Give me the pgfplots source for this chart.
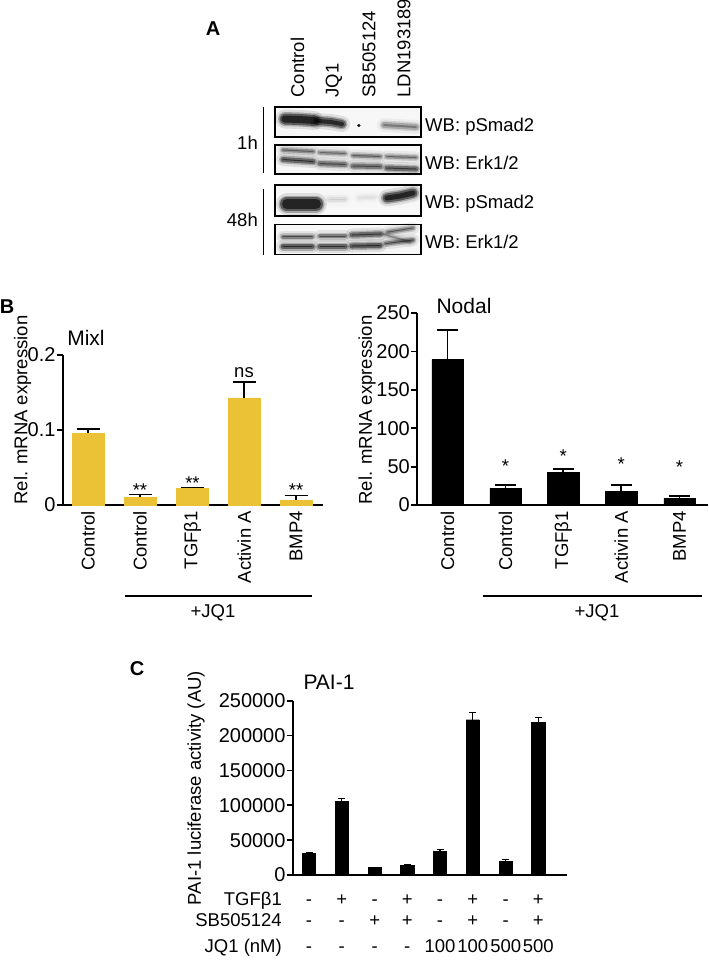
\documentclass[border=0pt]{standalone}
\usepackage{pgfplots}
\pgfplotsset{compat=1.18}
\usepackage{fontspec}
\setmainfont{Liberation Sans}
\definecolor{mixlyellow}{RGB}{235,193,54}

\pgfplotsset{
  panel/.style={
    scale only axis, anchor=south west, clip=false,
    axis lines=left, axis line style={-, line width=1.8pt},
    ybar, ymin=0, enlargelimits=false,
    ytick pos=left, tick align=outside, major tick length=6pt,
    ytick style={line width=1.8pt, black},
    xtick style={draw=none},
    yticklabel style={font=\fontsize{20}{24}\selectfont, inner sep=1pt},
    xticklabel style={rotate=90, anchor=east, font=\fontsize{18.5}{22}\selectfont, inner sep=0pt},
    /pgf/number format/assume math mode=true,
    /pgf/number format/fixed,
    /pgf/number format/1000 sep={},
    scaled y ticks=false,
  },
  blot/.style={no marks, black, line cap=round, line width=#1, forget plot},
}

% one blot band: core width (px), darkness (0-1), coordinates
\newcommand{\band}[3]{%
  \pgfmathsetmacro\bwA{#1+8}\pgfmathsetmacro\bwB{#1+3}%
  \pgfmathsetmacro\bwC{#1}\pgfmathsetmacro\bwD{max(#1-4,1)}%
  \pgfmathsetmacro\boA{0.10*#2}\pgfmathsetmacro\boB{0.25*#2}%
  \pgfmathsetmacro\boC{0.45*#2}\pgfmathsetmacro\boD{0.6*#2}%
  \edef\tmp{%
    \noexpand\addplot[blot=\bwA pt, opacity=\boA] coordinates {#3};
    \noexpand\addplot[blot=\bwB pt, opacity=\boB] coordinates {#3};
    \noexpand\addplot[blot=\bwC pt, opacity=\boC] coordinates {#3};
    \noexpand\addplot[blot=\bwD pt, opacity=\boD] coordinates {#3};}\tmp}

\begin{document}
\begin{tikzpicture}
\path[use as bounding box] (0pt,0pt) rectangle (709pt,-964pt);

% overlay in pixel coordinates: blot and text
\begin{axis}[at={(0pt,0pt)}, anchor=north west, scale only axis,
  width=709pt, height=964pt, hide axis, clip=false,
  xmin=0, xmax=709, ymin=0, ymax=964, y dir=reverse]
  \foreach \ya/\yb in {107/137, 145/174, 185/216, 224.5/254.5}{
    \edef\tmp{\noexpand\fill[gray!6] (axis cs:275,\ya) rectangle (axis cs:421,\yb);}\tmp
  }
  % pSmad2 1h
  \band{11}{1}{(285,119) (300,119.5) (314,120.5)}
  \band{8}{0.95}{(318,121) (331,122) (342,124)}
  \addplot[blot=3pt, opacity=0.9] coordinates {(358.5,125.7) (359.2,125.7)};
  \band{6}{0.45}{(384,125) (400,126) (416,127)}
  % Erk 1h
  \band{4}{0.6}{(283,150) (313,151.5)}
  \band{4}{0.55}{(320,152.5) (345,153.5)}
  \band{4}{0.6}{(353,155.5) (380,156.5)}
  \band{4}{0.55}{(387,156.5) (416,157.5)}
  \band{5}{0.9}{(283,159.5) (313,161.5)}
  \band{5}{0.75}{(320,163.5) (345,164.5)}
  \band{5}{0.75}{(353,166) (380,166.5)}
  \band{5}{0.85}{(387,168) (416,169)}
  % pSmad2 48h
  \band{14}{1}{(287,204) (302,204) (316,204)}
  \band{5}{0.12}{(329,199) (345,199)}
  \band{5}{0.08}{(359,198) (375,197)}
  \band{9}{1}{(387,198) (400,196) (413,193)}
  % Erk 48h
  \band{4}{0.7}{(283,236.5) (312,236.5)}
  \band{4}{0.7}{(320,236) (345,236)}
  \band{5}{0.85}{(352,235) (380,234)}
  \band{4}{0.6}{(388,232) (413,228)}
  \band{3}{0.35}{(383,234) (410,242)}
  \band{5}{0.95}{(283,246.5) (312,246.5)}
  \band{5}{0.9}{(320,246.5) (345,246.5)}
  \band{5}{0.95}{(352,246) (380,245.5)}
  \band{4}{0.7}{(386,243.5) (413,240)}
  \foreach \ya/\yb in {107/137, 145/174, 185/216, 224.5/254.5}{
    \edef\tmp{\noexpand\draw[line width=1.6pt] (axis cs:275,\ya) rectangle (axis cs:421,\yb);}\tmp
  }
  \draw[line width=1.8pt] (axis cs:263.5,107) -- (axis cs:263.5,173);
  \draw[line width=1.8pt] (axis cs:263.5,189) -- (axis cs:263.5,255);

  \begin{scope}[font=\fontsize{18.5}{22}\selectfont]
    \node[font=\fontsize{20}{24}\selectfont\bfseries] at (axis cs:213,29) {A};
    \node[rotate=90, anchor=west] at (axis cs:297.5,101) {Control};
    \node[rotate=90, anchor=west] at (axis cs:334,101) {JQ1};
    \node[rotate=90, anchor=west] at (axis cs:369,101) {SB505124};
    \node[rotate=90, anchor=west] at (axis cs:404,101) {LDN193189};
    \node[anchor=east, inner sep=0pt] at (axis cs:258,143) {1h};
    \node[anchor=east, inner sep=0pt] at (axis cs:258,220) {48h};
    \node[anchor=west, inner sep=0pt] at (axis cs:425,126.7) {WB: pSmad2};
    \node[anchor=west, inner sep=0pt] at (axis cs:425,163.3) {WB: Erk1/2};
    \node[anchor=west, inner sep=0pt] at (axis cs:425,203.3) {WB: pSmad2};
    \node[anchor=west, inner sep=0pt] at (axis cs:425,241.7) {WB: Erk1/2};

    \node[font=\fontsize{20}{24}\selectfont\bfseries] at (axis cs:7,307) {B};
    \node[font=\fontsize{21}{25}\selectfont] at (axis cs:86,338) {Mixl};
    \node[font=\fontsize{21}{25}\selectfont] at (axis cs:464,306) {Nodal};
    \node[rotate=90] at (axis cs:22.5,410) {Rel. mRNA expression};
    \node[rotate=90] at (axis cs:367,410) {Rel. mRNA expression};
    \draw[line width=1.5pt] (axis cs:125,596) -- (axis cs:311.7,596);
    \draw[line width=1.5pt] (axis cs:482.7,596) -- (axis cs:701.7,596);
    \node at (axis cs:213,613) {+JQ1};
    \node at (axis cs:597,613) {+JQ1};
    \node[anchor=base] at (axis cs:140,496) {**};
    \node[anchor=base] at (axis cs:192.5,489) {**};
    \node[anchor=base] at (axis cs:296,496) {**};
    \node[anchor=base] at (axis cs:244,377) {ns};
    \node[anchor=base] at (axis cs:505.5,472) {*};
    \node[anchor=base] at (axis cs:563.3,462) {*};
    \node[anchor=base] at (axis cs:621.3,470) {*};
    \node[anchor=base] at (axis cs:679.5,473) {*};

    \node[font=\fontsize{20}{24}\selectfont\bfseries] at (axis cs:137,669) {C};
    \node[font=\fontsize{21}{25}\selectfont] at (axis cs:329,682) {PAI-1};
    \node[rotate=90] at (axis cs:196,788) {PAI-1 luciferase activity (AU)};
  \end{scope}
  \begin{scope}[font=\fontsize{18.5}{22}\selectfont]
    \node[anchor=base east, inner sep=0pt] at (axis cs:282,905) {TGFβ1};
    \node[anchor=base east, inner sep=0pt] at (axis cs:282,926) {SB505124};
    \node[anchor=base east, inner sep=0pt] at (axis cs:282,952.5) {JQ1 (nM)};
    \foreach \x/\a/\b/\c in {309/-/-/-, 341.7/+/-/-, 374.8/-/+/-, 407.3/+/+/-,
                             440/-/-/100, 472.7/+/+/100, 505.7/-/-/500, 538.3/+/+/500}{
      \edef\tmp{\noexpand\node[anchor=base, inner sep=0pt] at (axis cs:\x,905) {\a};
        \noexpand\node[anchor=base, inner sep=0pt] at (axis cs:\x,926) {\b};
        \noexpand\node[anchor=base, inner sep=0pt] at (axis cs:\x,952.5) {\c};}\tmp
    }
  \end{scope}
\end{axis}

% Mixl
\begin{axis}[panel, at={(62.7pt,-505pt)}, width=260.3pt, height=150pt,
  xmin=62.7, xmax=323, ymax=0.2, ytick={0,0.1,0.2},
  yticklabels={0,0.1,0.2},
  bar width=32pt,
  xtick={88,140,192.5,244.3,296},
  xticklabels={Control,Control,TGFβ1,Activin A,BMP4}]
  \addplot[fill=mixlyellow, draw=mixlyellow,
    error bars/.cd, y dir=plus, y explicit,
    error bar style={line width=1.8pt, draw=black},
    error mark options={rotate=90, line width=1.8pt, draw=black, mark size=11.5pt}]
    coordinates {(88,0.0958) +- (0,0.0052) (140,0.0101) +- (0,0.004)
      (192.5,0.0224) +- (0,0.001) (244.3,0.1429) +- (0,0.021) (296,0.0066) +- (0,0.006)};
\end{axis}

% Nodal
\begin{axis}[panel, at={(417pt,-505pt)}, width=291pt, height=192pt,
  xmin=417, xmax=708, ymax=250, ytick={0,50,...,250},
  bar width=31.5pt,
  xtick={447.5,505.5,563.3,621.3,679.5},
  xticklabels={Control,Control,TGFβ1,Activin A,BMP4}]
  \addplot[fill=black, draw=black,
    error bars/.cd, y dir=plus, y explicit,
    error bar style={line width=1.8pt, draw=black},
    error mark options={rotate=90, line width=1.8pt, draw=black, mark size=10.5pt}]
    coordinates {(447.5,189.3) +- (0,39) (505.5,21.7) +- (0,4.3)
      (563.3,42.5) +- (0,3.9) (621.3,18.2) +- (0,7.8) (679.5,8.7) +- (0,3.4)};
\end{axis}

% PAI-1
\begin{axis}[panel, at={(292.7pt,-875pt)}, width=274pt, height=174.3pt,
  xmin=292.7, xmax=566.7, ymax=250000, ytick={0,50000,...,250000},
  bar width=13.3pt, xtick=\empty]
  \addplot[fill=black, draw=black,
    error bars/.cd, y dir=plus, y explicit,
    error bar style={line width=1.5pt, draw=black},
    error mark options={rotate=90, line width=1.5pt, draw=black, mark size=3.5pt}]
    coordinates {(309,31070) +- (0,930) (341.7,105640) +- (0,4300)
      (374.8,10520) +- (0,500) (407.3,14340) +- (0,960)
      (440,33460) +- (0,3340) (472.7,222750) +- (0,10520)
      (505.7,19120) +- (0,3350) (538.3,219400) +- (0,6220)};
\end{axis}
\end{tikzpicture}
\end{document}
